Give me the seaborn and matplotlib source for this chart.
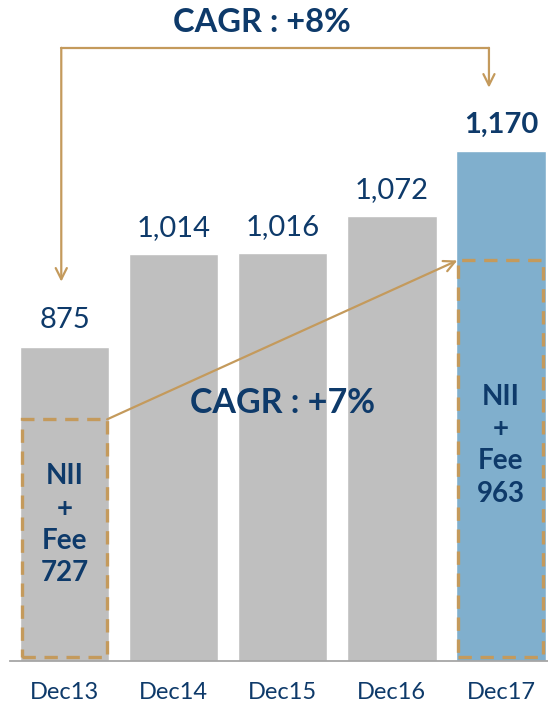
import matplotlib
matplotlib.use('Agg')
import matplotlib.pyplot as plt
import seaborn as sns

# chart data
periods = ['Dec13', 'Dec14', 'Dec15', 'Dec16', 'Dec17']
total_income = [875, 1014, 1016, 1072, 1170]
value_labels = ['875', '1,014', '1,016', '1,072', '1,170']
nii_fee_idx = [0, 4]
nii_fee = [727, 963]
cagr_total = 'CAGR : +8%'
cagr_core = 'CAGR : +7%'

navy = '#0E3A6A'
gold = '#C49A5C'
grey = '#BFBFBF'
blue = '#80AFCD'

sns.set_style('white')
plt.rcParams['font.family'] = ['Lato', 'DejaVu Sans']

fig = plt.figure(figsize=(5.48, 7.04), dpi=100)
ax = fig.add_axes([10 / 548, 43 / 704, 545.5 / 548, 661 / 704])

bar_colors = [grey] * 4 + [blue]
sns.barplot(x=periods, y=total_income, hue=periods, palette=bar_colors,
            legend=False, width=0.82, saturation=1, ax=ax)
ax.set_xlim(-0.5, 4.5)
ax.set_ylim(402, 1397)

# value labels
for i, (v, lab) in enumerate(zip(total_income, value_labels)):
    ax.text(i, v + 20, lab, ha='center', va='bottom', fontsize=21,
            color=navy, fontweight='bold' if i == 4 else 'normal')

# axis styling
for s in ['top', 'left', 'right']:
    ax.spines[s].set_visible(False)
ax.spines['bottom'].set_color('#A6A6A6')
ax.spines['bottom'].set_linewidth(1.3)
ax.set_yticks([])
ax.set_xticks(range(len(periods)))
ax.set_xticklabels(periods, fontsize=17, color=navy)
ax.tick_params(axis='x', which='major', length=0, pad=15)
ax.set_xticks([i - 0.5 for i in range(len(periods) + 1)], minor=True)
ax.tick_params(axis='x', which='minor', length=6, width=1.3, color='#A6A6A6',
               direction='out')
ax.set_xlabel('')

# NII + Fee boxes on a second scale
ax2 = ax.twinx()
ax2.set_ylim(368, 1350)
ax2.axis('off')
base = 374
ax2.bar(nii_fee_idx, [v - base for v in nii_fee], bottom=base, width=0.78,
        fill=False, edgecolor=gold, linewidth=2.4, linestyle=(0, (4, 2.6)))
for i, v in zip(nii_fee_idx, nii_fee):
    ax2.text(i, (v + base) / 2 + 20, 'NII\n+\nFee\n' + str(v), ha='center',
             va='center', fontsize=20, fontweight='bold', color=navy,
             linespacing=1.3)

# diagonal CAGR arrow between boxes
ax2.annotate('', xy=(4 - 0.4, nii_fee[1]), xytext=(0 + 0.39, nii_fee[0]),
             arrowprops=dict(arrowstyle='->,head_length=0.8,head_width=0.4',
                             color=gold, lw=1.6, shrinkA=0, shrinkB=0))
ax.text(2, 790, cagr_core, ha='center', va='center', fontsize=24.5,
        fontweight='bold', color=navy)

# bracket arrow over the bars
top_y = 1325
ax.plot([-0.03, 3.89], [top_y, top_y], color=gold, lw=1.6, clip_on=False)
ax.annotate('', xy=(-0.03, total_income[0] + 98), xytext=(-0.03, top_y),
            arrowprops=dict(arrowstyle='->,head_length=0.8,head_width=0.4',
                            color=gold, lw=1.6, shrinkA=0, shrinkB=0))
ax.annotate('', xy=(3.89, total_income[4] + 95), xytext=(3.89, top_y),
            arrowprops=dict(arrowstyle='->,head_length=0.8,head_width=0.4',
                            color=gold, lw=1.6, shrinkA=0, shrinkB=0))
fig.text(262 / 548, 1 - 22 / 704, cagr_total, ha='center', va='center',
         fontsize=23.5, fontweight='bold', color=navy)

fig.savefig('out.png', dpi=100)
